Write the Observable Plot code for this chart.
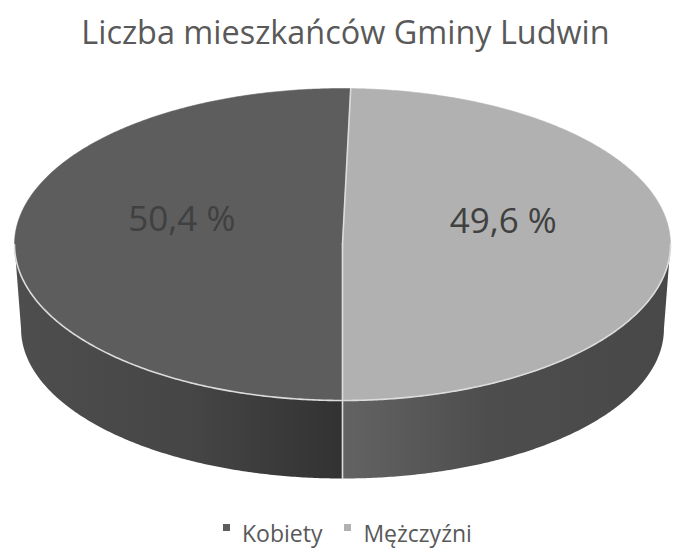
<!DOCTYPE html>
<html><head><meta charset="utf-8">
<script src="https://cdn.jsdelivr.net/npm/d3@7"></script>
<script src="https://cdn.jsdelivr.net/npm/@observablehq/plot@0.6"></script>
<style>
body{margin:0;background:#fff;font-family:"Open Sans",sans-serif;}
#wrap{position:relative;width:673px;height:551px;overflow:hidden;background:#fff;}
#title{position:absolute;left:9px;top:15px;width:673px;text-align:center;font-size:32.4px;line-height:32px;color:#595959;white-space:nowrap;}
#chart{position:absolute;left:0;top:70px;}
#legend{position:absolute;left:223px;top:522px;font-size:23px;line-height:23px;color:#595959;white-space:nowrap;}
#legend .sw{display:inline-block;width:7px;height:7px;vertical-align:11px;margin-right:12px;}
#legend .item{display:inline-block;margin-right:22px;}
</style></head>
<body><div id="wrap"><div id="title"></div><div id="chart"></div><div id="legend"></div></div>
<script>
const title = "Liczba mieszkańców Gminy Ludwin";
const categories = ["Kobiety", "Mężczyźni"];
const values = [50.4, 49.6];
const valueLabels = ["50,4 %", "49,6 %"];
const topColors = ["#5d5d5d", "#b1b1b1"];
const wallGradients = [
  [["0%", "#4e4e4e"], ["55%", "#454545"], ["100%", "#323232"]],
  [["0%", "#636363"], ["45%", "#4d4d4d"], ["100%", "#484848"]]
];

document.getElementById("title").textContent = title;

// geometry (unit ellipse, mapped through scales)
const W = 673, H = 430;
const cx = 342, cy = 174, rx = 328, ry = 156;
const kx = 0.98, ky = 0.96, depth = 0.54;
const step = Math.PI / 360;

const arcs = d3.pie().sort(null).startAngle(Math.PI).endAngle(3 * Math.PI)(values);

function topPt(a) { return {x: Math.sin(a), y: -Math.cos(a)}; }
function botPt(a) { return {x: kx * Math.sin(a), y: depth + ky * (-Math.cos(a))}; }
function range(a0, a1) {
  const n = Math.max(2, Math.ceil((a1 - a0) / step));
  return d3.range(n + 1).map(i => a0 + (a1 - a0) * i / n);
}

const faces = arcs.map((d, i) => [{x: 0, y: 0}, ...range(d.startAngle, d.endAngle).map(topPt), {x: 0, y: 0}]);

// visible front walls: angles in [pi/2, 3pi/2] (mod 2pi)
const walls = arcs.map((d, i) => {
  const pts = [];
  for (const k of [0, 1]) {
    const s = Math.max(d.startAngle, Math.PI / 2 + 2 * Math.PI * k);
    const e = Math.min(d.endAngle, 3 * Math.PI / 2 + 2 * Math.PI * k);
    if (e > s) {
      const as = range(s, e);
      pts.push(...as.map(topPt), ...as.slice().reverse().map(botPt));
    }
  }
  return pts;
});

const rim = range(Math.PI / 2, 3 * Math.PI / 2).map(topPt);
const dividers = arcs.map(d => [{x: 0, y: 0}, topPt(d.startAngle)]);
const wallDividers = arcs.filter(d => {
  const a = ((d.startAngle % (2 * Math.PI)) + 2 * Math.PI) % (2 * Math.PI);
  return a >= Math.PI / 2 && a <= 3 * Math.PI / 2;
}).map(d => [topPt(d.startAngle), botPt(d.startAngle)]);

const labelData = arcs.map((d, i) => {
  const m = (d.startAngle + d.endAngle) / 2;
  return {x: 0.49 * Math.sin(m), y: -0.49 * Math.cos(m), text: valueLabels[i]};
});

const marks = [];
walls.forEach((w, i) => { if (w.length) marks.push(Plot.line(w, {x: "x", y: "y", fill: `url(#wall${i})`, stroke: "none", curve: "linear"})); });
faces.forEach((f, i) => marks.push(Plot.line(f, {x: "x", y: "y", fill: topColors[i], stroke: topColors[i], strokeWidth: 0.5, curve: "linear"})));
marks.push(Plot.line(rim, {x: "x", y: "y", stroke: "#dcdcdc", strokeWidth: 1.6}));
dividers.forEach(dv => marks.push(Plot.line(dv, {x: "x", y: "y", stroke: "#dcdcdc", strokeWidth: 1.6})));
wallDividers.forEach(dv => marks.push(Plot.line(dv, {x: "x", y: "y", stroke: "#dcdcdc", strokeWidth: 1.6})));
marks.push(Plot.text(labelData, {x: "x", y: "y", text: "text", fontSize: 35, fill: "#404040", dy: -24, fontFamily: "Open Sans"}));

const svg = Plot.plot({
  width: W, height: H,
  margin: 0,
  style: {background: "transparent", overflow: "visible"},
  x: {domain: [-1, 1], range: [cx - rx, cx + rx], axis: null},
  y: {domain: [-1, 1], range: [cy - ry, cy + ry], axis: null},
  marks
});

const defs = d3.select(svg).insert("defs", ":first-child");
wallGradients.forEach((stops, i) => {
  const g = defs.append("linearGradient").attr("id", `wall${i}`).attr("x1", "0").attr("x2", "1").attr("y1", "0").attr("y2", "0");
  stops.forEach(([o, c]) => g.append("stop").attr("offset", o).attr("stop-color", c));
});
document.getElementById("chart").appendChild(svg);

const legend = d3.select("#legend");
categories.forEach((c, i) => {
  const it = legend.append("span").attr("class", "item");
  it.append("span").attr("class", "sw").style("background", topColors[i]);
  it.append("span").text(c);
});
</script>
</body></html>
